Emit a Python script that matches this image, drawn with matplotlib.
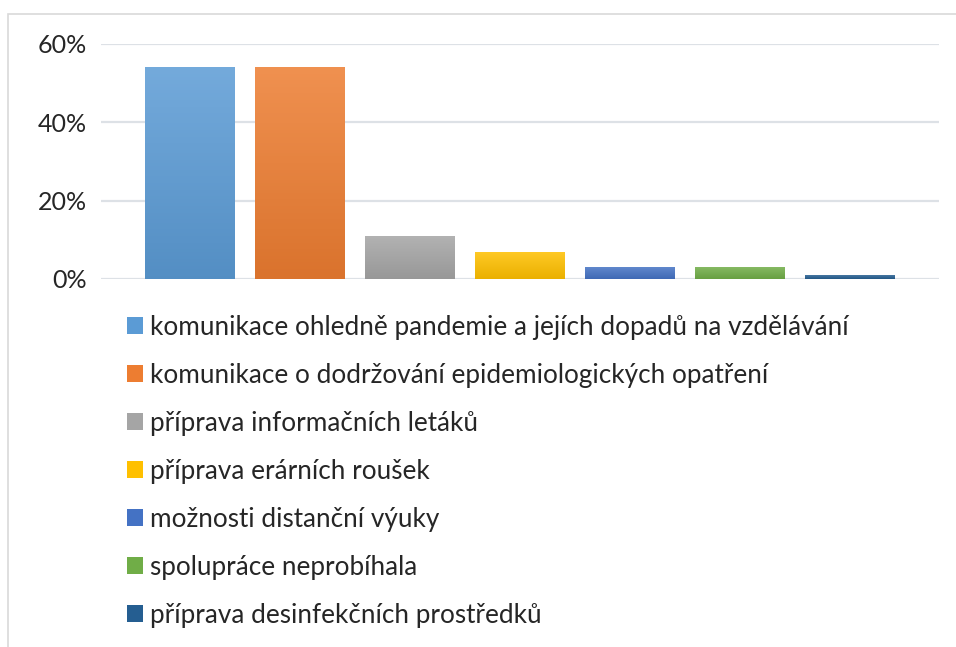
import numpy as np
import matplotlib.pyplot as plt
from matplotlib.colors import to_rgb
from matplotlib.patches import Rectangle

labels = [
    'komunikace ohledně pandemie a jejích dopadů na vzdělávání',
    'komunikace o dodržování epidemiologických opatření',
    'příprava informačních letáků',
    'příprava erárních roušek',
    'možnosti distanční výuky',
    'spolupráce neprobíhala',
    'příprava desinfekčních prostředků',
]
values = [0.54, 0.54, 0.11, 0.07, 0.03, 0.03, 0.01]
colors = ['#5B9BD5', '#ED7D31', '#A5A5A5', '#FFC000', '#4472C4', '#70AD47', '#255E91']
yticks = [0, 0.2, 0.4, 0.6]
ytick_labels = ['0%', '20%', '40%', '60%']

plt.rcParams['font.family'] = ['Lato', 'DejaVu Sans']

fig = plt.figure(figsize=(9.56, 6.47), dpi=100)
ax = fig.add_axes([0.1057, 0.5688, 0.8765, 0.3632])

# outer chart frame (left and top edges visible)
fig.add_artist(Rectangle((8 / 956, -0.1), 1.2, 1 - 14 / 647 + 0.1,
                         transform=fig.transFigure, fill=False,
                         edgecolor='#D9D9D9', linewidth=1.2))

x = np.arange(len(values))
bars = ax.bar(x, values, width=0.817, color=colors, label=labels, zorder=3)


def shade(c, f):
    c = np.array(to_rgb(c))
    if f > 0:
        return c + (1 - c) * f
    return c * (1 + f)


# vertical gradient fill on each bar, lighter at the top
for b, c in zip(bars, colors):
    x0, y0 = b.get_x(), b.get_y()
    x1, y1 = x0 + b.get_width(), y0 + b.get_height()
    top, bot = shade(c, 0.15), shade(c, -0.08)
    t = np.linspace(0, 1, 64)[:, None]
    grad = (top[None, :] * (1 - t) + bot[None, :] * t)[:, None, :]
    im = ax.imshow(grad, extent=[x0, x1, y0, y1], aspect='auto',
                   origin='upper', zorder=4)
    im.set_clip_path(b)

ax.set_xlim(-0.805, 6.805)
ax.set_ylim(0, 0.6)
ax.set_yticks(yticks)
ax.set_yticklabels(ytick_labels)
ax.set_xticks([])
ax.tick_params(axis='y', length=0, pad=10, labelsize=18, labelcolor='#262626')
ax.grid(axis='y', color='#DDE1E6', linewidth=1.6, zorder=0)
for s in ax.spines.values():
    s.set_visible(False)

leg = fig.legend(handles=list(bars), labels=labels, loc='upper left',
                 bbox_to_anchor=(127 / 956, 1 - 315 / 647), frameon=False,
                 fontsize=18.8, handlelength=0.61, handleheight=0.61,
                 handletextpad=0.27, labelspacing=0.88, borderpad=0,
                 borderaxespad=0)
for t in leg.get_texts():
    t.set_color('#262626')

fig.savefig('out.png', dpi=100)
